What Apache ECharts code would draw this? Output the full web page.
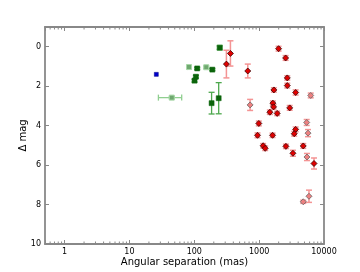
<!DOCTYPE html>
<html>
<head>
<meta charset="utf-8">
<script src="https://cdn.jsdelivr.net/npm/echarts@6/dist/echarts.min.js"></script>
<style>html,body{margin:0;padding:0;background:#fff}#c{width:360px;height:272px}</style>
</head>
<body>
<div id="c"></div>
<script>
// ---- data (angular separation in mas, delta mag, error) ----
const blueSep = [26];
const blueMag = [1.40];

const greenDarkSep = [111, 190, 106, 101, 247, 185, 238];
const greenDarkMag = [1.10, 1.16, 1.52, 1.72, 0.05, 2.86, 2.61];
const greenDarkErr = [0.05, 0.05, 0.07, 0.07, 0.08, 0.55, 0.79];

const greenLightSep = [83, 153, 247, 45];
const greenLightMag = [1.03, 1.04, 0.05, 2.58];
const greenLightErr = [0.07, 0.06, 0.12, 0.05];
const greenLightXLo = [4, 0, 0, 17];
const greenLightXHi = [4, 0, 0, 19];

const redSep = [313, 361, 668, 1995, 2560, 2715, 2715, 3656, 1688, 1629, 1670, 1463, 1897, 2960, 989, 3656, 3475, 944, 1610, 1153, 1239, 2587, 4786, 3318, 7015];
const redMag = [0.88, 0.34, 1.23, 0.10, 0.57, 1.58, 1.97, 2.32, 2.19, 2.86, 3.05, 3.32, 3.38, 3.10, 3.89, 4.19, 4.41, 4.49, 4.49, 5.02, 5.15, 5.05, 5.03, 5.40, 5.92];
const redErr = [0.70, 0.64, 0.35, 0.12, 0.12, 0.11, 0.12, 0.13, 0.11, 0.11, 0.11, 0.11, 0.11, 0.12, 0.12, 0.12, 0.12, 0.12, 0.11, 0.11, 0.11, 0.11, 0.12, 0.15, 0.28];

const paleSep = [726, 6240, 5410, 5667, 5460, 4786, 5866];
const paleMag = [2.95, 2.47, 3.84, 4.38, 5.59, 7.86, 7.58];
const paleErr = [0.28, 0.12, 0.15, 0.18, 0.18, 0.08, 0.31];

const xTickLabels = ['1', '10', '100', '1000', '10000'];
const yTickLabels = ['0', '2', '4', '6', '8', '10'];
const xMinorTicks = [0.6, 0.7, 0.8, 0.9,
  2, 3, 4, 5, 6, 7, 8, 9,
  20, 30, 40, 50, 60, 70, 80, 90,
  200, 300, 400, 500, 600, 700, 800, 900,
  2000, 3000, 4000, 5000, 6000, 7000, 8000, 9000];

const X_MIN = 0.5, X_MAX = 10000, Y_MIN = -1, Y_MAX = 10;
const AXIS_COLOR = '#888888';
const FONT = 'DejaVu Sans';

function zip(sep, mag, err, xlo, xhi) {
  return sep.map((s, i) => [s, mag[i], err ? err[i] : 0, xlo ? xlo[i] : 0, xhi ? xhi[i] : 0]);
}

function errRenderer(color, width) {
  return function (params, api) {
    const x = api.value(0), y = api.value(1), ey = api.value(2), xl = api.value(3), xh = api.value(4);
    const cap = 3;
    const st = { stroke: color, lineWidth: width };
    const ch = [];
    if (ey > 0) {
      const t = api.coord([x, y - ey]), b = api.coord([x, y + ey]);
      ch.push({ type: 'line', shape: { x1: t[0], y1: t[1], x2: b[0], y2: b[1] }, style: st });
      ch.push({ type: 'line', shape: { x1: t[0] - cap, y1: t[1], x2: t[0] + cap, y2: t[1] }, style: st });
      ch.push({ type: 'line', shape: { x1: b[0] - cap, y1: b[1], x2: b[0] + cap, y2: b[1] }, style: st });
    }
    if (xl > 0 || xh > 0) {
      const l = api.coord([x - xl, y]), r = api.coord([x + xh, y]);
      ch.push({ type: 'line', shape: { x1: l[0], y1: l[1], x2: r[0], y2: r[1] }, style: st });
      ch.push({ type: 'line', shape: { x1: l[0], y1: l[1] - cap, x2: l[0], y2: l[1] + cap }, style: st });
      ch.push({ type: 'line', shape: { x1: r[0], y1: r[1] - cap, x2: r[0], y2: r[1] + cap }, style: st });
    }
    return { type: 'group', children: ch };
  };
}

function errSeries(data, color, width) {
  return { type: 'custom', xAxisIndex: 0, yAxisIndex: 0, data: data, z: 2,
    encode: { x: 0, y: 1 }, renderItem: errRenderer(color, width), silent: true };
}

function scatterSeries(data, symbol, size, fill, border, bw) {
  return { type: 'scatter', xAxisIndex: 0, yAxisIndex: 0, data: data, symbol: symbol, symbolSize: size, z: 3,
    itemStyle: { color: fill, borderColor: border, borderWidth: bw, opacity: 1 }, silent: true };
}

const minorTickSeries = {
  type: 'custom', xAxisIndex: 0, yAxisIndex: 0, z: 5, silent: true,
  data: xMinorTicks.map(v => [v, Y_MAX]),
  encode: { x: 0, y: 1 },
  renderItem: function (params, api) {
    const b = api.coord([api.value(0), Y_MAX]);
    const t = api.coord([api.value(0), Y_MIN]);
    const st = { stroke: AXIS_COLOR, lineWidth: 1 };
    return { type: 'group', children: [
      { type: 'line', shape: { x1: b[0], y1: b[1], x2: b[0], y2: b[1] - 2.5 }, style: st },
      { type: 'line', shape: { x1: t[0], y1: t[1], x2: t[0], y2: t[1] + 2.5 }, style: st }
    ] };
  }
};

const chart = echarts.init(document.getElementById('c'), null, { renderer: 'canvas' });

const axisLine = { show: true, onZero: false, lineStyle: { color: AXIS_COLOR, width: 1.8 } };
const axisTick = { show: true, inside: true, length: 4, lineStyle: { color: AXIS_COLOR, width: 1 } };

chart.setOption({
  animation: false,
  textStyle: { fontFamily: FONT },
  grid: { left: 45, right: 36, top: 27, bottom: 28 },
  xAxis: [
    { type: 'log', logBase: 10, min: X_MIN, max: X_MAX, position: 'bottom',
      name: 'Angular separation (mas)', nameLocation: 'middle', nameGap: 13, nameMoveOverlap: false,
      nameTextStyle: { fontFamily: FONT, fontSize: 10, color: '#000' },
      axisLine: axisLine, axisTick: axisTick, splitLine: { show: false },
      axisLabel: { fontFamily: FONT, fontSize: 8, color: '#000', margin: 4,
        formatter: function (v) { const s = String(Math.round(v)); return (v >= 0.99 && xTickLabels.indexOf(s) >= 0) ? s : ''; } } },
    { type: 'log', logBase: 10, min: X_MIN, max: X_MAX, position: 'top',
      axisLine: axisLine, axisTick: axisTick, splitLine: { show: false }, axisLabel: { show: false } }
  ],
  yAxis: [
    { type: 'value', min: Y_MIN, max: Y_MAX, inverse: true, splitNumber: 5, position: 'left',
      name: 'Δ mag', nameLocation: 'middle', nameGap: 17, nameRotate: 90, nameMoveOverlap: false,
      nameTextStyle: { fontFamily: FONT, fontSize: 10, color: '#000' },
      axisLine: axisLine, axisTick: axisTick, splitLine: { show: false },
      axisLabel: { fontFamily: FONT, fontSize: 8, color: '#000', margin: 4,
        formatter: function (v) { const s = String(Math.round(v)); return yTickLabels.indexOf(s) >= 0 && Math.abs(v - Math.round(v)) < 1e-6 ? s : ''; } } },
    { type: 'value', min: Y_MIN, max: Y_MAX, inverse: true, splitNumber: 5, position: 'right',
      axisLine: axisLine, axisTick: axisTick, splitLine: { show: false }, axisLabel: { show: false } }
  ],
  series: [
    minorTickSeries,
    errSeries(zip(greenLightSep, greenLightMag, greenLightErr, greenLightXLo, greenLightXHi), '#90cf90', 1.3),
    errSeries(zip(greenDarkSep, greenDarkMag, greenDarkErr), '#4ea84e', 1.3),
    errSeries(zip(redSep, redMag, redErr), '#f49494', 1.5),
    errSeries(zip(paleSep, paleMag, paleErr), '#f49494', 1.5),
    scatterSeries(zip(greenLightSep, greenLightMag), 'rect', 5, '#6fa86f', '#a8d8a8', 1),
    scatterSeries(zip(greenDarkSep, greenDarkMag), 'rect', 5, '#0b640b', '#0b640b', 0.5),
    scatterSeries(zip(blueSep, blueMag), 'rect', 4, '#0000cc', '#000080', 0.5),
    scatterSeries(zip(paleSep, paleMag), 'diamond', 6, '#ee8080', '#666666', 0.8),
    scatterSeries(zip(redSep, redMag), 'diamond', 6, '#e00000', '#3a0000', 0.8)
  ]
});
</script>
</body>
</html>
